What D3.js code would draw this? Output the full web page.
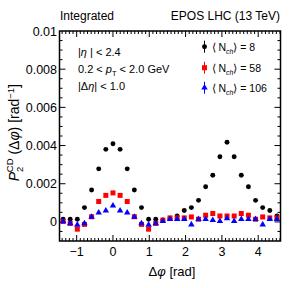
<!DOCTYPE html>
<html lang="en">
<head>
  <meta charset="utf-8" />
  <title>P2 CD vs dphi</title>
  <script src="https://cdn.jsdelivr.net/npm/d3@7"></script>
  <style>
    html, body { margin: 0; background: #fff; }
    svg { display: block; font-family: "Liberation Sans", Arial, sans-serif; }
  </style>
</head>
<body>
<script>
// bin centres: 31 bins of pi/16 starting at -7*pi/16
const binIdx = d3.range(-7, 24);
const dphi = binIdx.map(k => k * Math.PI / 16);

// values in units of 1e-3 rad^-1
const nch8 = [0.14, 0.14, 0.14, 0.75, 1.67, 2.78, 3.80, 4.09, 3.80, 2.78, 1.67, 0.75, 0.14, 0.14, 0.10, 0.18,
              0.31, 0.60, 0.75, 1.13, 1.84, 2.44, 3.41, 4.17, 3.41, 2.44, 1.84, 1.13, 0.75, 0.60, 0.31];
const nch58 = [0.02, -0.08, -0.38, -0.13, 0.27, 1.07, 1.39, 1.52, 1.39, 1.07, 0.27, -0.13, -0.38, -0.08, 0.09, 0.21,
               0.21, 0.21, 0.26, 0.14, 0.35, 0.44, 0.31, 0.31, 0.31, 0.44, 0.35, 0.14, 0.26, 0.21, 0.21];
const nch106 = [0.03, -0.08, -0.15, -0.08, 0.26, 0.48, 0.59, 0.85, 0.59, 0.48, 0.26, -0.08, -0.15, -0.08, 0.04, 0.14,
                0.14, 0.14, -0.14, 0.14, 0.14, 0.09, 0.04, 0.18, 0.04, 0.14, 0.14, 0.14, -0.14, 0.14, 0.14];

const series = [
  { label: "8",   values: nch8,   color: "#000000", shape: "circle" },
  { label: "58",  values: nch58,  color: "#ff0000", shape: "square" },
  { label: "106", values: nch106, color: "#0000ff", shape: "triangle" },
];

const xTicks = [-1, 0, 1, 2, 3, 4];
const yTicks = [0, 2, 4, 6, 8, 10];
const yTickLabels = ["0", "0.002", "0.004", "0.006", "0.008", "0.01"];

const W = 299, H = 288;
const L = 59.5, R = 280.5, T = 31, B = 241;

const svg = d3.select("body").append("svg").attr("width", W).attr("height", H);

const x = d3.scaleLinear().domain([-15 * Math.PI / 32, 47 * Math.PI / 32]).range([L, R]);
const y = d3.scaleLinear().domain([-1, 10]).range([B, T]);

// ticks on all four sides, pointing in
const ticks = svg.append("g").attr("stroke", "#000").attr("stroke-width", 1);
const xMinor = d3.range(-14, 47).map(i => i / 10).filter(v => x(v) > L + 0.5 && x(v) < R - 0.5);
xMinor.forEach(v => {
  const major = Math.abs(v - Math.round(v)) < 1e-6;
  const len = major ? 6 : 3;
  ticks.append("line").attr("x1", x(v)).attr("x2", x(v)).attr("y1", B).attr("y2", B - len);
  ticks.append("line").attr("x1", x(v)).attr("x2", x(v)).attr("y1", T).attr("y2", T + len);
});
const yMinor = d3.range(-1, 10.01, 0.5).filter(v => y(v) < B - 0.5 && y(v) > T + 0.5);
yMinor.forEach(v => {
  const major = Math.abs(v / 2 - Math.round(v / 2)) < 1e-6;
  const len = major ? 6 : 3;
  ticks.append("line").attr("y1", y(v)).attr("y2", y(v)).attr("x1", L).attr("x2", L + len);
  ticks.append("line").attr("y1", y(v)).attr("y2", y(v)).attr("x1", R).attr("x2", R - len);
});

svg.append("rect").attr("x", L).attr("y", T).attr("width", R - L).attr("height", B - T)
  .attr("fill", "none").attr("stroke", "#000").attr("stroke-width", 1.5);

// tick labels
svg.append("g").selectAll("text").data(xTicks).join("text")
  .attr("x", d => x(d)).attr("y", 255.5).attr("text-anchor", "middle")
  .attr("font-size", 12.5).text(d => d < 0 ? "\u2212" + (-d) : d);
svg.append("g").selectAll("text").data(yTicks).join("text")
  .attr("x", 57).attr("y", d => y(d) + 4.5).attr("text-anchor", "end")
  .attr("font-size", 12.5).text((d, i) => yTickLabels[i]);

// axis titles
const xt = svg.append("text").attr("x", 172).attr("y", 275.5).attr("text-anchor", "middle").attr("font-size", 13);
xt.append("tspan").text("\u0394");
xt.append("tspan").attr("font-style", "italic").text("\u03c6");
xt.append("tspan").text(" [rad]");

const yt = svg.append("text").attr("transform", "translate(18.5,84) rotate(-90)")
  .attr("text-anchor", "end").attr("font-size", 14);
yt.append("tspan").attr("font-style", "italic").text("P");
yt.append("tspan").attr("font-size", 9.5).attr("dy", 4).text("2");
yt.append("tspan").attr("font-size", 9.5).attr("dx", -5.5).attr("dy", -10).text("CD");
yt.append("tspan").attr("dy", 6).text(" (\u0394");
yt.append("tspan").attr("font-style", "italic").text("\u03c6");
yt.append("tspan").text(") [rad");
yt.append("tspan").attr("font-size", 9.5).attr("dy", -5).text("\u22121");
yt.append("tspan").attr("dy", 5).text("]");

// header texts
svg.append("text").attr("x", 60).attr("y", 20).attr("font-size", 12).text("Integrated");
svg.append("text").attr("x", 280).attr("y", 20).attr("text-anchor", "end").attr("font-size", 12).text("EPOS LHC (13 TeV)");

// cut labels
const cut = svg.append("g").attr("font-size", 11);
const c1 = cut.append("text").attr("x", 78).attr("y", 55.5);
c1.append("tspan").text("|");
c1.append("tspan").attr("font-style", "italic").text("\u03b7");
c1.append("tspan").text(" | < 2.4");
const c2 = cut.append("text").attr("x", 78).attr("y", 73);
c2.append("tspan").text("0.2 < ");
c2.append("tspan").attr("font-style", "italic").text("p");
c2.append("tspan").attr("font-size", 7.5).attr("dy", 3).text("T");
c2.append("tspan").attr("dy", -3).text(" < 2.0 GeV");
const c3 = cut.append("text").attr("x", 78).attr("y", 90);
c3.append("tspan").text("|\u0394");
c3.append("tspan").attr("font-style", "italic").text("\u03b7");
c3.append("tspan").text("| < 1.0");

// markers
const sym = {
  circle: d3.symbol(d3.symbolCircle, 19),
  square: d3.symbol(d3.symbolSquare, 25),
  triangle: d3.symbol(d3.symbolTriangle, 18),
};

const marks = svg.append("g");
series.forEach(s => {
  marks.append("g").selectAll("path").data(s.values).join("path")
    .attr("transform", (d, i) => `translate(${x(dphi[i])},${y(d)})`)
    .attr("d", sym[s.shape]())
    .attr("fill", s.color);
});

// legend
const legY = [46.7, 67.7, 87.7];
const leg = svg.append("g").attr("font-size", 10.5);
series.forEach((s, i) => {
  const g = leg.append("g").attr("transform", `translate(204.5,${legY[i]})`);
  g.append("line").attr("y1", -6).attr("y2", 6).attr("stroke", s.color).attr("stroke-width", 1);
  g.append("path").attr("d", sym[s.shape]()).attr("fill", s.color);
  const t = g.append("text").attr("x", 7).attr("y", 4);
  t.append("tspan").text("\u27e8 N");
  t.append("tspan").attr("font-size", 7).attr("font-style", "italic").attr("dy", 3).text("ch");
  t.append("tspan").attr("dy", -3).text("\u27e9 = " + s.label);
});
</script>
</body>
</html>
